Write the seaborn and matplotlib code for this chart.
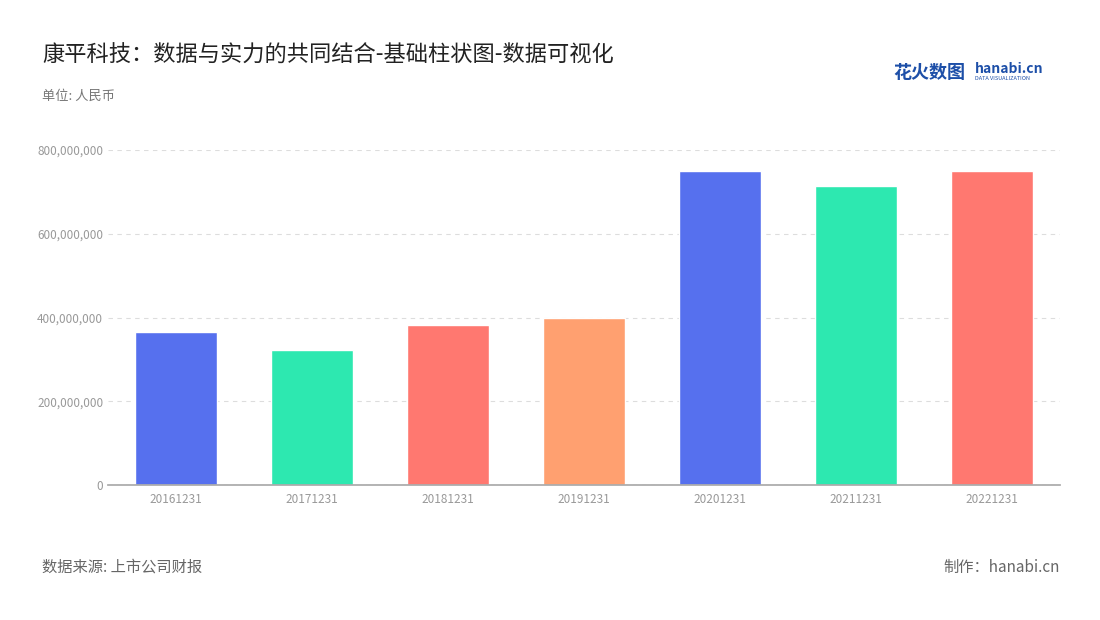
import matplotlib
matplotlib.use("Agg")
import matplotlib.pyplot as plt
import seaborn as sns
import pandas as pd
from matplotlib.ticker import FuncFormatter

categories = ["20161231","20171231","20181231","20191231","20201231","20211231","20221231"]
values = [365e6, 323e6, 382e6, 400e6, 750e6, 713e6, 749e6]
colors = ["#5670EE","#2DE8B0","#FF7870","#FFA070","#5670EE","#2DE8B0","#FF7870"]

sns.set_theme(style="white")
plt.rcParams['font.family'] = ['Noto Sans CJK SC', 'DejaVu Sans']

fig = plt.figure(figsize=(11, 6.2), dpi=100)
ax = fig.add_axes([108/1100, 1-485/620, (1060-108)/1100, (485-150)/620])
df = pd.DataFrame({"d": categories, "v": values})
sns.barplot(data=df, x="d", y="v", hue="d", palette=colors, legend=False, ax=ax, width=0.6, saturation=1)
ax.set_ylim(0, 800e6)
ax.set_yticks([0, 200e6, 400e6, 600e6, 800e6])
ax.yaxis.set_major_formatter(FuncFormatter(lambda v, p: f"{int(v):,}"))
ax.set_xlabel(""); ax.set_ylabel("")
ax.grid(axis="y", linestyle=(0, (4, 4)), color="#dddddd", linewidth=0.8)
ax.set_axisbelow(True)
for s in ["top", "right", "left"]:
    ax.spines[s].set_visible(False)
ax.spines["bottom"].set_color("#aaaaaa")
ax.tick_params(axis="both", labelsize=8.5, colors="#999999", length=0)
ax.tick_params(axis="x", pad=6)

fig.text(42/1100, 1-55/620, "康平科技：数据与实力的共同结合-基础柱状图-数据可视化", fontsize=16, color="#222222", va="center")
fig.text(42/1100, 1-96/620, "单位: 人民币", fontsize=9.5, color="#777777", va="center")
fig.text(42/1100, 1-567/620, "数据来源: 上市公司财报", fontsize=11, color="#666666", va="center")
fig.text(1060/1100, 1-567/620, "制作：hanabi.cn", fontsize=11, color="#666666", va="center", ha="right")
fig.text(893/1100, 1-72/620, "花火数图", fontsize=13, color="#1d4fa8", va="center", fontweight="bold")
fig.text(975/1100, 1-69/620, "hanabi.cn", fontsize=10, color="#1d4fa8", va="center", fontweight="bold")
fig.text(975/1100, 1-79/620, "DATA VISUALIZATION", fontsize=4, color="#1d4fa8", va="center")
fig.savefig("out.png", dpi=100)
